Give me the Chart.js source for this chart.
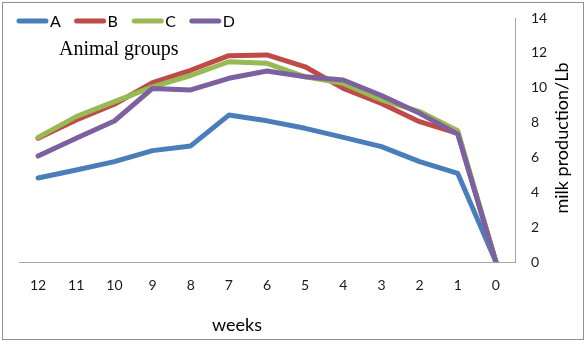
<!DOCTYPE html>
<html>
<head>
<meta charset="utf-8">
<script src="https://cdn.jsdelivr.net/npm/chart.js@4.4.0/dist/chart.umd.min.js"></script>
<style>
  html, body { margin: 0; padding: 0; background: #ffffff; }
  #wrap { width: 587px; height: 344px; }
</style>
</head>
<body>
<div id="wrap"><canvas id="c" width="587" height="344"></canvas></div>
<script>
const weeks = ['12', '11', '10', '9', '8', '7', '6', '5', '4', '3', '2', '1', '0'];
const seriesA = [4.82, 5.28, 5.76, 6.39, 6.66, 8.43, 8.10, 7.67, 7.15, 6.62, 5.76, 5.08, 0];
const seriesB = [7.10, 8.15, 9.05, 10.29, 11.00, 11.84, 11.88, 11.20, 9.96, 9.10, 8.05, 7.38, 0];
const seriesC = [7.15, 8.34, 9.20, 10.05, 10.70, 11.49, 11.40, 10.63, 10.25, 9.30, 8.63, 7.53, 0];
const seriesD = [6.08, 7.10, 8.09, 9.96, 9.87, 10.54, 10.96, 10.63, 10.44, 9.55, 8.53, 7.34, 0];
const yTicks = [0, 2, 4, 6, 8, 10, 12, 14];
const seriesNames = ['A', 'B', 'C', 'D'];
const chartTitle = 'Animal groups';
const xTitle = 'weeks';
const yTitle = 'milk production/Lb';

const colors = ['#4A7EBB', '#BE4B48', '#98B954', '#7D60A0'];
const values = [seriesA, seriesB, seriesC, seriesD];

const datasets = values.map((v, i) => ({
  label: seriesNames[i],
  data: v,
  borderColor: colors[i],
  backgroundColor: colors[i],
  borderWidth: 5,
  pointRadius: 0,
  pointHoverRadius: 0,
  tension: 0,
  fill: false,
  borderJoinStyle: 'round',
  borderCapStyle: 'round',
  order: 4 - i
}));

const decor = {
  id: 'decor',
  beforeDraw(chart) {
    const ctx = chart.ctx;
    ctx.save();
    ctx.fillStyle = '#ffffff';
    ctx.fillRect(0, 0, chart.width, chart.height);
    ctx.strokeStyle = '#8E8E8E';
    ctx.lineWidth = 1;
    ctx.strokeRect(2.5, 2.5, 581, 337);
    ctx.restore();
  },
  afterDraw(chart) {
    const ctx = chart.ctx;
    ctx.save();
    chart.data.datasets.forEach((ds, i) => {
      const x0 = 17 + i * 57.6;
      const y0 = 21;
      ctx.strokeStyle = ds.borderColor;
      ctx.lineWidth = 5;
      ctx.lineCap = 'round';
      ctx.beginPath();
      ctx.moveTo(x0 + 2, y0);
      ctx.lineTo(x0 + 29, y0);
      ctx.stroke();
      ctx.fillStyle = '#000000';
      ctx.font = '16px Lato';
      ctx.textBaseline = 'middle';
      ctx.textAlign = 'left';
      ctx.fillText(ds.label, x0 + 33, y0 + 1);
    });
    ctx.fillStyle = '#000000';
    ctx.font = '20px "Liberation Serif"';
    ctx.textAlign = 'left';
    ctx.textBaseline = 'alphabetic';
    ctx.fillText(chartTitle, 59, 55);
    ctx.font = '18px Lato';
    ctx.textAlign = 'center';
    ctx.fillText(xTitle, 237, 331);
    ctx.save();
    ctx.translate(568, 138);
    ctx.rotate(-Math.PI / 2);
    ctx.textAlign = 'center';
    ctx.textBaseline = 'alphabetic';
    ctx.fillText(yTitle, 0, 0);
    ctx.restore();
    ctx.restore();
  }
};

new Chart(document.getElementById('c'), {
  type: 'line',
  data: { labels: weeks, datasets },
  options: {
    responsive: false,
    animation: false,
    devicePixelRatio: 1,
    layout: { padding: { left: 19, top: 18, right: 0, bottom: 0 } },
    plugins: { legend: { display: false }, tooltip: { enabled: false }, title: { display: false } },
    scales: {
      x: {
        type: 'category',
        offset: true,
        grid: { display: false, drawTicks: false },
        border: { display: true, color: '#A6A6A6', width: 1 },
        ticks: { color: '#1a1a1a', font: { family: 'Lato', size: 14 }, padding: 15, maxRotation: 0, autoSkip: false },
        afterFit(s) { s.height = 82; s.paddingLeft = 0; s.paddingRight = 0; }
      },
      y: {
        position: 'right',
        min: 0,
        max: 14,
        grid: { display: false, drawTicks: false },
        border: { display: true, color: '#A6A6A6', width: 1 },
        afterBuildTicks(s) { s.ticks = yTicks.map(v => ({ value: v })); },
        ticks: { color: '#1a1a1a', font: { family: 'Lato', size: 14 }, padding: 16 },
        afterFit(s) { s.width = 72; s.paddingTop = 0; s.paddingBottom = 0; }
      }
    }
  },
  plugins: [decor]
});
</script>
</body>
</html>
